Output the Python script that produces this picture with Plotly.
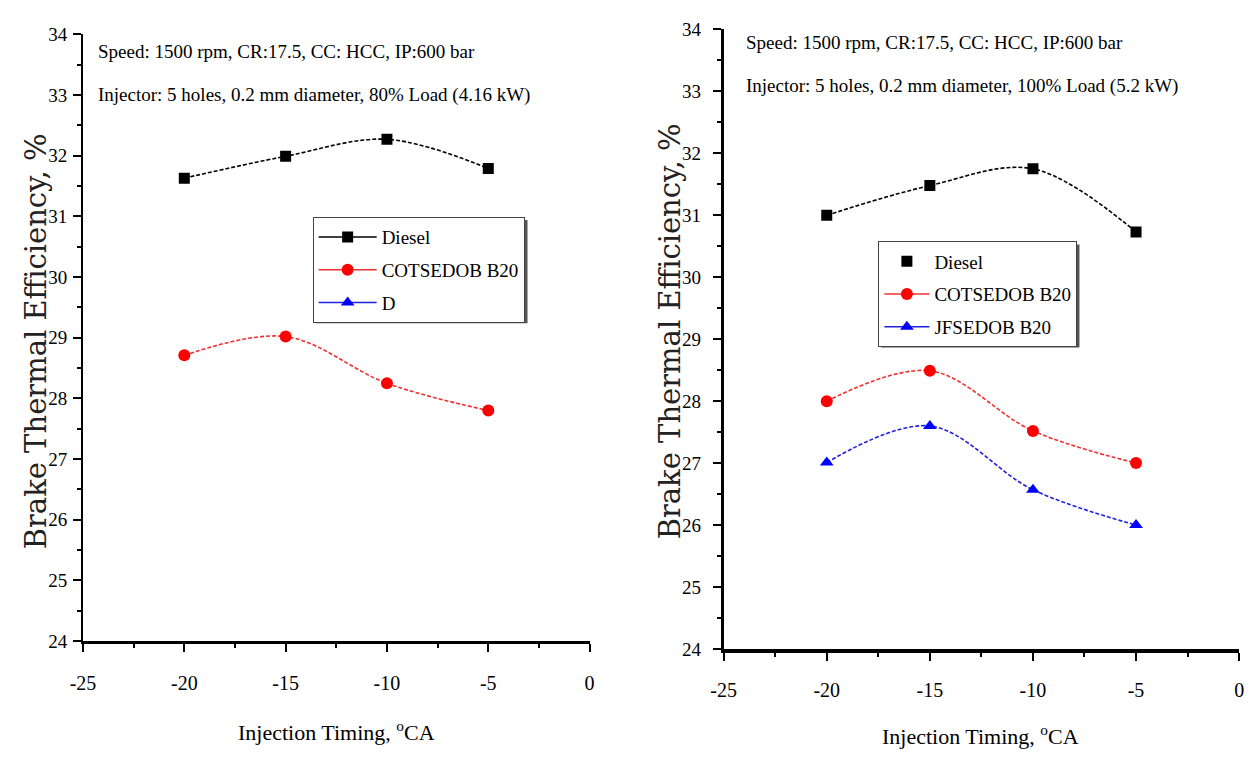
import plotly.graph_objects as go

# ---------------- data ----------------
x_timing = [-20, -15, -10, -5]

# left panel: 80% load (4.16 kW)
diesel_80 = [31.63, 31.99, 32.27, 31.79]
cotsedob_80 = [28.71, 29.02, 28.25, 27.80]
d_80 = []  # legend entry only, no points visible

# right panel: 100% load (5.2 kW)
diesel_100 = [31.00, 31.48, 31.75, 30.73]
cotsedob_100 = [28.00, 28.49, 27.52, 27.00]
jfsedob_100 = [27.01, 27.60, 26.57, 26.00]

x_tick_vals = [-25, -20, -15, -10, -5, 0]
x_tick_text = ["-25", "-20", "-15", "-10", "-5", "0"]
y_tick_vals = [24, 25, 26, 27, 28, 29, 30, 31, 32, 33, 34]
y_tick_text = ["24", "25", "26", "27", "28", "29", "30", "31", "32", "33", "34"]

W, H = 1254, 765
FONT = "Liberation Serif"


def px(x):
    return x / W


def py(y):
    return 1 - y / H


fig = go.Figure()

series = [
    # (x, y, name, color, symbol, msize, axis, legend, legend_mode)
    (x_timing, diesel_80, "Diesel", "black", "square", 11, ("x", "y"), "legend", "lines+markers"),
    (x_timing, cotsedob_80, "COTSEDOB B20", "red", "circle", 12, ("x", "y"), "legend", "lines+markers"),
    (x_timing[:len(d_80)], d_80, "D", "blue", "triangle-up", 12, ("x", "y"), "legend", "lines+markers"),
    (x_timing, diesel_100, "Diesel", "black", "square", 11, ("x2", "y2"), "legend2", "markers"),
    (x_timing, cotsedob_100, "COTSEDOB B20", "red", "circle", 12, ("x2", "y2"), "legend2", "lines+markers"),
    (x_timing, jfsedob_100, "JFSEDOB B20", "blue", "triangle-up", 12, ("x2", "y2"), "legend2", "lines+markers"),
]

for i, (xs, ys, name, col, sym, ms, (xa, ya), leg, lmode) in enumerate(series):
    lcol = {"black": "black", "red": "#f03030", "blue": "#2020e0"}[col]
    fig.add_trace(go.Scatter(
        x=xs, y=ys, mode="lines+markers", xaxis=xa, yaxis=ya,
        line=dict(shape="spline", smoothing=1.0, dash="4px,2px", color=lcol, width=1.6),
        marker=dict(symbol=sym, size=ms, color=col),
        showlegend=False, hoverinfo="x+y",
    ))
    # legend proxy (solid legend line like the original)
    fig.add_trace(go.Scatter(
        x=[None], y=[None], mode=lmode, xaxis=xa, yaxis=ya, name=name,
        legend=leg, legendgroup=f"g{i}",
        line=dict(color=lcol, width=1.5),
        marker=dict(symbol=sym, size=ms, color=col),
    ))

axis_common = dict(
    showline=True, linecolor="black", showgrid=False, zeroline=False,
    ticks="outside", tickcolor="black", tickwidth=1.5, ticklen=8,
    mirror=False,
)
xfont = dict(family=FONT, size=20, color="black")
yfont = dict(family=FONT, size=19, color="black")

fig.update_layout(
    width=W, height=H, margin=dict(l=0, r=0, t=0, b=0),
    paper_bgcolor="white", plot_bgcolor="white",
    font=dict(family=FONT, color="black"),
    xaxis=dict(domain=[px(71), px(585)], range=[-25, 0], anchor="y",
               tickvals=x_tick_vals, ticktext=x_tick_text, linewidth=2.5,
               ticklabelstandoff=14, tickfont=xfont,
               minor=dict(ticks="outside", ticklen=4, dtick=2.5, tickcolor="black", tickwidth=1.5),
               **axis_common),
    yaxis=dict(domain=[py(649), py(25)], range=[24, 34], anchor="x",
               tickvals=y_tick_vals, ticktext=y_tick_text, linewidth=2,
               ticklabelstandoff=2, tickfont=yfont,
               minor=dict(ticks="outside", ticklen=4, dtick=0.5, tickcolor="black", tickwidth=1.5),
               **axis_common),
    xaxis2=dict(domain=[px(721), px(1244)], range=[-25, 0], anchor="y2",
                tickvals=x_tick_vals, ticktext=x_tick_text, linewidth=3.5,
                ticklabelstandoff=12, tickfont=xfont,
                minor=dict(ticks="outside", ticklen=4, dtick=2.5, tickcolor="black", tickwidth=1.5),
                **axis_common),
    yaxis2=dict(domain=[py(657), py(20)], range=[24, 34], anchor="x2",
                tickvals=y_tick_vals, ticktext=y_tick_text, linewidth=2.5,
                ticklabelstandoff=8, tickfont=yfont,
                minor=dict(ticks="outside", ticklen=4, dtick=0.5, tickcolor="black", tickwidth=1.5),
                **axis_common),
    legend=dict(x=px(304), y=py(213), xanchor="left", yanchor="top",
                bgcolor="white", bordercolor="#444", borderwidth=1,
                font=dict(family=FONT, size=19, color="black"),
                itemwidth=58, tracegroupgap=5, traceorder="grouped"),
    legend2=dict(x=px(878), y=py(238), xanchor="left", yanchor="top",
                 bgcolor="white", bordercolor="#444", borderwidth=1,
                 font=dict(family=FONT, size=19, color="black"),
                 itemwidth=45, tracegroupgap=5, traceorder="grouped"),
)

# legend drop shadows (approximate box of each legend, offset)
for (x0, y0, x1, y1) in [(304, 213, 519, 319), (878, 238, 1079, 344)]:
    fig.add_shape(type="rect", xref="paper", yref="paper",
                  x0=px(x0 + 3), x1=px(x1 + 3), y0=py(y1 + 3), y1=py(y0 + 3),
                  fillcolor="#555", line=dict(width=0), layer="above")

ann = []
# condition texts
for (x, y, t) in [
    (84, 43, "Speed: 1500 rpm, CR:17.5, CC: HCC, IP:600 bar"),
    (84, 87, "Injector: 5 holes, 0.2 mm diameter, 80% Load (4.16 kW)"),
    (742, 33, "Speed: 1500 rpm, CR:17.5, CC: HCC, IP:600 bar"),
    (742, 78, "Injector: 5 holes, 0.2 mm diameter, 100% Load (5.2 kW)"),
]:
    ann.append(dict(x=px(x), y=py(y), xref="paper", yref="paper", text=t,
                    showarrow=False, xanchor="left", yanchor="middle",
                    font=dict(family=FONT, size=19, color="black")))
# axis titles
for (x, y) in [(328, 741), (982, 745)]:
    ann.append(dict(x=px(x), y=py(y), xref="paper", yref="paper",
                    text="Injection Timing, <sup>o</sup>CA", showarrow=False,
                    xanchor="center", yanchor="middle",
                    font=dict(family=FONT, size=22, color="black")))
for (x, y) in [(23, 341), (667, 330)]:
    ann.append(dict(x=px(x), y=py(y), xref="paper", yref="paper",
                    text="Brake Thermal Efficiency, %", showarrow=False, textangle=-90,
                    xanchor="center", yanchor="middle",
                    font=dict(family="DejaVu Serif", size=29, color="#222")))
fig.update_layout(annotations=ann)

fig.write_html("out.html")
